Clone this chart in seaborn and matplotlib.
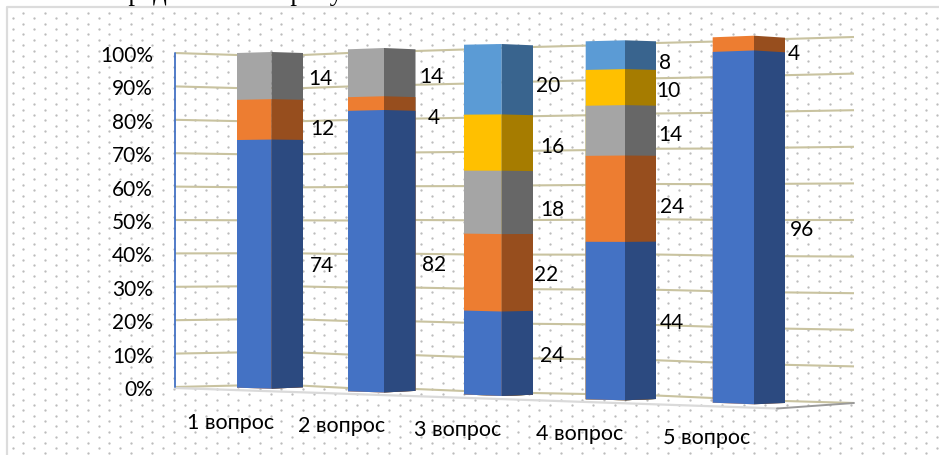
import numpy as np
import pandas as pd
import matplotlib
matplotlib.use("Agg")
import matplotlib.pyplot as plt
from matplotlib.transforms import Transform
import seaborn as sns

# Survey results, percent of answers per question
questions = ["1 вопрос", "2 вопрос", "3 вопрос", "4 вопрос", "5 вопрос"]
answer_a = [74, 82, 24, 44, 96]
answer_b = [12, 4, 22, 24, 4]
answer_c = [14, 14, 18, 14, 0]
answer_d = [0, 0, 16, 10, 0]
answer_e = [0, 0, 20, 8, 0]
percent_ticks = [0, 10, 20, 30, 40, 50, 60, 70, 80, 90, 100]

series = [answer_a, answer_b, answer_c, answer_d, answer_e]
front_colors = ["#4472c4", "#ed7d31", "#a5a5a5", "#ffc000", "#5b9bd5"]
side_colors = ["#2c4a80", "#974e1e", "#676767", "#a67c00", "#39648e"]
GRID_COLOR = "#c9c3a0"

# Perspective of the scene: category position -> pixel column, and the pixel
# rows of the 0% and 100% levels at each of those positions.
U = np.array([-1, -.25, 0, .25, .75, 1, 1.25, 1.75, 2, 2.25, 2.75, 3, 3.25, 3.75, 4, 4.25, 5])
COL = [175, 237, 271.5, 303, 348, 384, 415.5, 464, 501.7, 533, 585.7, 625, 656, 712.7, 754, 785, 854]
BAR_FLOOR = [387, 387.7, 388.7, 387.3, 391.3, 392.5, 390.9, 394.5, 396, 394.7, 399.3, 400.3, 399, 402.7, 404.3, 403, 403]
BAR_ROOF = [53, 53, 52, 53, 49.3, 48, 49.3, 44.7, 44, 45.3, 41.3, 40.3, 41.3, 37.3, 35.7, 37.7, 37]
WALL_FLOOR = [387, 385.5, 385.5, 385.7, 388, 388.5, 389, 391, 392, 393, 394, 395, 395.5, 398, 399.5, 401, 403]
WALL_ROOF = [53, 55, 55, 55, 53, 52, 51, 49.5, 48, 47, 45.6, 44, 43, 41.6, 40, 39, 37]


class Perspective(Transform):
    """Maps (category position, percent) to pixel coordinates of the scene."""
    input_dims = output_dims = 2
    is_separable = False
    has_inverse = False

    def __init__(self, floor, roof):
        super().__init__()
        self.floor, self.roof = floor, roof

    def transform_non_affine(self, values):
        values = np.asarray(values, dtype=float)
        u, v = values[:, 0], values[:, 1]
        lo = np.interp(u, U, self.floor)
        hi = np.interp(u, U, self.roof)
        return np.column_stack([np.interp(u, U, COL), lo + (hi - lo) * v / 100])


sns.set_theme(style="white")
plt.rcParams["font.family"] = ["Lato", "Open Sans", "DejaVu Sans"]

fig = plt.figure(figsize=(9.39, 4.55), dpi=100, facecolor="white")
ax = fig.add_axes([0, 0, 1, 1])

bar_proj = Perspective(BAR_FLOOR, BAR_ROOF)
wall_proj = Perspective(WALL_FLOOR, WALL_ROOF)

# Dotted page fill inside the frame
rows = np.arange(-1, 82)
for row_shift, row_set in ((0.0, rows[rows % 2 == 0]), (10.75, rows[rows % 2 == 1])):
    gx, gy = np.meshgrid(np.arange(12.7 + row_shift, 945, 21.5), 18.3 + 5.37 * row_set)
    ax.scatter(gx.ravel(), gy.ravel(), s=2.8, color="#bcbcbc", linewidths=0, zorder=0.1)

# Frame and the clipped line of text above it
ax.plot([7, 7, 945], [460, 7, 7], color="#dcdcdc", lw=1.6, zorder=0.2)
ax.text(114, 0, "предложено на рисунке", family="Liberation Serif", fontsize=19.4,
        color="black", va="baseline", ha="left", clip_on=True)

# Wall gridlines
for tick in percent_ticks:
    ax.plot(U, [tick] * len(U), transform=wall_proj + ax.transData,
            color=GRID_COLOR, lw=1.5, zorder=0.5, solid_capstyle="butt")

# Floor edges and the value axis
ax.plot([175, 778], [388, 408.5], color="#dadada", lw=1.6, zorder=0.6)
ax.plot([777, 854], [408.5, 403], color="#9a9a9a", lw=1.4, zorder=0.6)
ax.plot([-1, -1], [0, 100], transform=wall_proj + ax.transData,
        color="#4472c4", lw=1.3, zorder=0.7)

# Stacked bars: tallest cumulative layer first, each face as its own bar set
positions = np.arange(len(questions), dtype=float)
cumulative = np.cumsum(np.array(series, dtype=float), axis=0)
for level in range(len(series) - 1, -1, -1):
    present = np.array(series[level]) > 0
    table = pd.DataFrame({"pos": positions[present], "top": cumulative[level][present]})
    for shift, colors in ((-0.125, front_colors), (0.125, side_colors)):
        before = len(ax.patches)
        sns.barplot(data=table.assign(pos=table["pos"] + shift), x="pos", y="top",
                    native_scale=True, orient="x", width=0.25, color=colors[level],
                    saturation=1, linewidth=0, errorbar=None, legend=False, ax=ax)
        for patch in ax.patches[before:]:
            patch.set_transform(bar_proj + ax.transData)
            patch.set_zorder(1 + (len(series) - level) * 0.1)

# Value labels, centred on their segments beside each bar
LABEL_NUDGE = [
    [(19, -2), (19, -9), (17, -3)],
    [(18.5, -14), (18.5, -14), (15.5, -4)],
    [(19, -3), (13, -3), (19, -7), (19, -4), (15, -6)],
    [(16, -3), (16, -8), (14, -4), (12, -3), (9, -7)],
    [(17, -2), (9, -9)],
]
for q in range(len(questions)):
    nudges = iter(LABEL_NUDGE[q])
    for level, values in enumerate(series):
        if values[q] == 0:
            continue
        dx, dy = next(nudges)
        mid = cumulative[level][q] - values[q] / 2
        ax.annotate(str(values[q]), xy=(q + 0.25, mid), xycoords=bar_proj + ax.transData,
                    xytext=(dx, dy), textcoords="offset pixels", ha="center", va="center",
                    fontsize=15, color="black", zorder=5)

# Percent scale on the left wall edge
for tick in percent_ticks:
    ax.annotate(f"{tick}%", xy=(-1, tick), xycoords=wall_proj + ax.transData,
                xytext=(-22, -3), textcoords="offset pixels", ha="right", va="center",
                fontsize=15, color="black", zorder=5)

# Question names under the bars
for q, name in enumerate(questions):
    ax.annotate(name, xy=(q - 0.25, 0), xycoords=bar_proj + ax.transData,
                xytext=(-6, -35), textcoords="offset pixels", ha="center", va="center",
                fontsize=15.5, color="black", zorder=5)

ax.set_xlim(0, 939)
ax.set_ylim(455, 0)
ax.axis("off")
fig.savefig("out.png", dpi=100, facecolor="white")
